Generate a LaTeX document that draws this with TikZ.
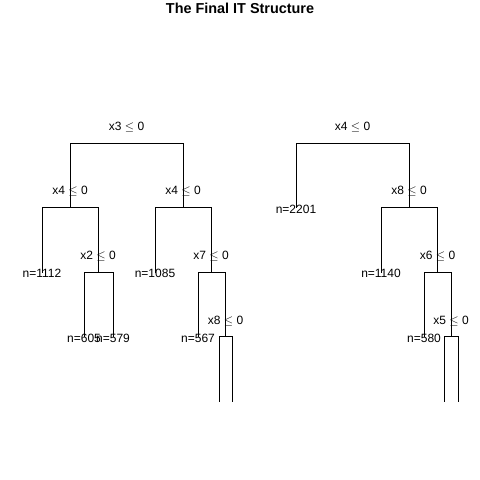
\documentclass[tikz,border=0pt]{standalone}
\usepackage{fontspec}
\setmainfont{Liberation Sans}
\begin{document}
\begin{tikzpicture}[x=1pt,y=-1pt,
  edge/.style={draw=black,line width=0.9pt},
  splitlab/.style={inner sep=0pt,font=\fontsize{12}{14}\selectfont},
  leaflab/.style={inner sep=0pt,font=\fontsize{12}{14}\selectfont},
  titlelab/.style={inner sep=0pt,font=\fontsize{14.4}{17}\selectfont\bfseries}]
\useasboundingbox (0,0) rectangle (480,480);
\node[titlelab] (title) at (240,8) {The Final IT Structure};
% ---- left tree ----
\coordinate (r1) at (126.5,143);
\node[splitlab] (r1l) at (126.5,127) {x3 $\le$ 0};
\coordinate (a) at (70,207);
\node[splitlab] (al) at (70,191.5) {x4 $\le$ 0};
\coordinate (a1) at (42,273);
\node[leaflab] (a1l) at (42,273.5) {n=1112};
\coordinate (a2) at (98,272);
\node[splitlab] (a2l) at (98,256) {x2 $\le$ 0};
\coordinate (a21) at (84,337);
\node[leaflab] (a21l) at (84,338) {n=605};
\coordinate (a22) at (113,337);
\node[leaflab] (a22l) at (113,338) {n=579};
\coordinate (b) at (183,207);
\node[splitlab] (bl) at (183,191.5) {x4 $\le$ 0};
\coordinate (b1) at (155,273);
\node[leaflab] (b1l) at (155,273.5) {n=1085};
\coordinate (b2) at (211,272);
\node[splitlab] (b2l) at (211,256) {x7 $\le$ 0};
\coordinate (b21) at (198,337);
\node[leaflab] (b21l) at (198,338) {n=567};
\coordinate (b22) at (225.5,336);
\node[splitlab] (b22l) at (225.5,321) {x8 $\le$ 0};
\coordinate (b221) at (219,402);
\coordinate (b222) at (232,402);
\draw[edge] (r1) -| (a);
\draw[edge] (r1) -| (b);
\draw[edge] (a) -| (a1);
\draw[edge] (a) -| (a2);
\draw[edge] (a2) -| (a21);
\draw[edge] (a2) -| (a22);
\draw[edge] (b) -| (b1);
\draw[edge] (b) -| (b2);
\draw[edge] (b2) -| (b21);
\draw[edge] (b2) -| (b22);
\draw[edge] (b22) -| (b221);
\draw[edge] (b22) -| (b222);
% ---- right tree ----
\coordinate (r2) at (352.5,143);
\node[splitlab] (r2l) at (352.5,127) {x4 $\le$ 0};
\coordinate (c1) at (296,208);
\node[leaflab] (c1l) at (296,209) {n=2201};
\coordinate (c) at (409,207);
\node[splitlab] (cl) at (409,191.5) {x8 $\le$ 0};
\coordinate (c11) at (381,273);
\node[leaflab] (c11l) at (381,273.5) {n=1140};
\coordinate (c2) at (437.5,272);
\node[splitlab] (c2l) at (437.5,256) {x6 $\le$ 0};
\coordinate (c21) at (424,337);
\node[leaflab] (c21l) at (424,338) {n=580};
\coordinate (c22) at (451,336);
\node[splitlab] (c22l) at (451,321) {x5 $\le$ 0};
\coordinate (c221) at (444,402);
\coordinate (c222) at (458,402);
\draw[edge] (r2) -| (c1);
\draw[edge] (r2) -| (c);
\draw[edge] (c) -| (c11);
\draw[edge] (c) -| (c2);
\draw[edge] (c2) -| (c21);
\draw[edge] (c2) -| (c22);
\draw[edge] (c22) -| (c221);
\draw[edge] (c22) -| (c222);
\end{tikzpicture}
\end{document}
